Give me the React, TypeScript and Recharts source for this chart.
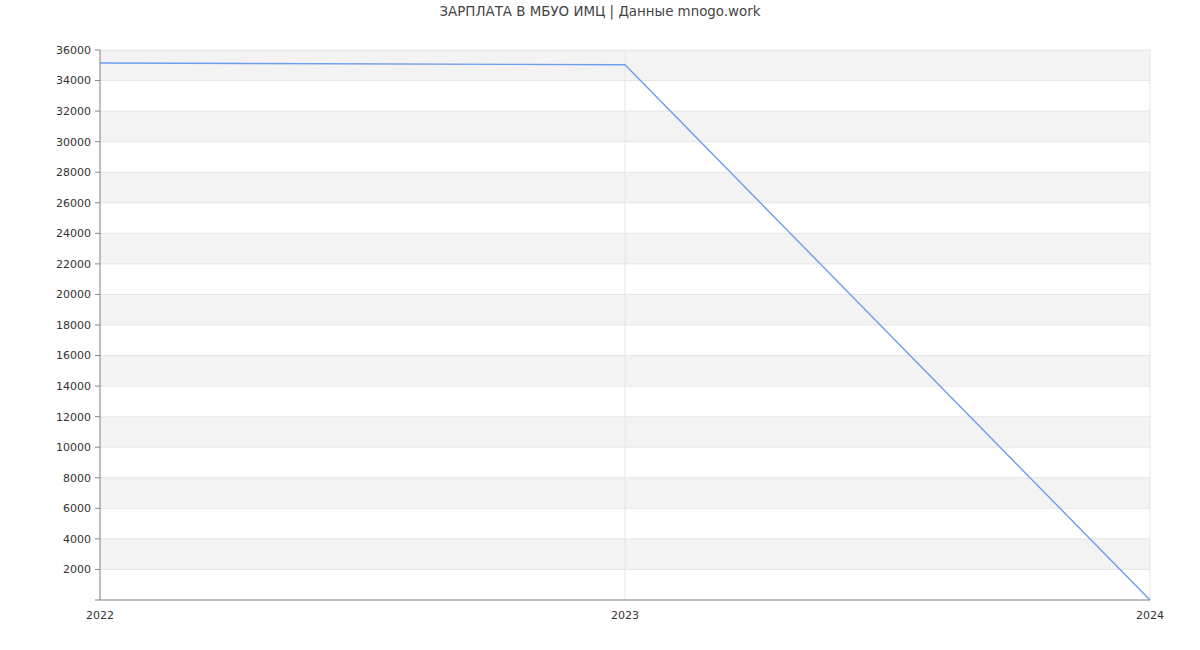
import { LineChart, Line, XAxis, YAxis, CartesianGrid } from 'recharts';

const years = ['2022', '2023', '2024'];
const salary = [35150, 35030, 0];
const yTicks = [0, 2000, 4000, 6000, 8000, 10000, 12000, 14000, 16000, 18000, 20000, 22000, 24000, 26000, 28000, 30000, 32000, 34000, 36000];

const data = years.map((year, i) => ({ year, salary: salary[i] }));

const font = 'DejaVu Sans, sans-serif';

export default function App() {
  return (
    <div style={{ position: 'absolute', top: 0, left: 0, width: 1200, height: 650, background: '#fff', fontFamily: font }}>
      <div
        style={{
          position: 'absolute',
          top: 4,
          left: 0,
          width: 1200,
          textAlign: 'center',
          fontSize: 13.4,
          color: '#444',
        }}
      >
        ЗАРПЛАТА В МБУО ИМЦ | Данные mnogo.work
      </div>
      <LineChart width={1200} height={650} data={data} margin={{ top: 50, right: 50, bottom: 0, left: 0 }}>
        <CartesianGrid
          stroke="#e6e6e6"
          horizontalFill={['#f3f3f3', '#ffffff']}
          fillOpacity={1}
        />
        <XAxis
          dataKey="year"
          height={50}
          tickLine={false}
          axisLine={{ stroke: '#888' }}
          tick={{ fill: '#333', fontSize: 11, fontFamily: font }}
          tickMargin={5}
          interval={0}
        />
        <YAxis
          width={100}
          domain={[0, 36000]}
          ticks={yTicks}
          interval={0}
          tickFormatter={(v: number) => (v === 0 ? '' : String(v))}
          axisLine={{ stroke: '#888' }}
          tickLine={{ stroke: '#888' }}
          tickSize={5}
          tickMargin={4}
          tick={{ fill: '#333', fontSize: 11, fontFamily: font }}
        />
        <Line
          type="linear"
          dataKey="salary"
          stroke="#6f9cf0"
          strokeWidth={1.4}
          dot={false}
          activeDot={false}
          isAnimationActive={false}
        />
      </LineChart>
    </div>
  );
}
